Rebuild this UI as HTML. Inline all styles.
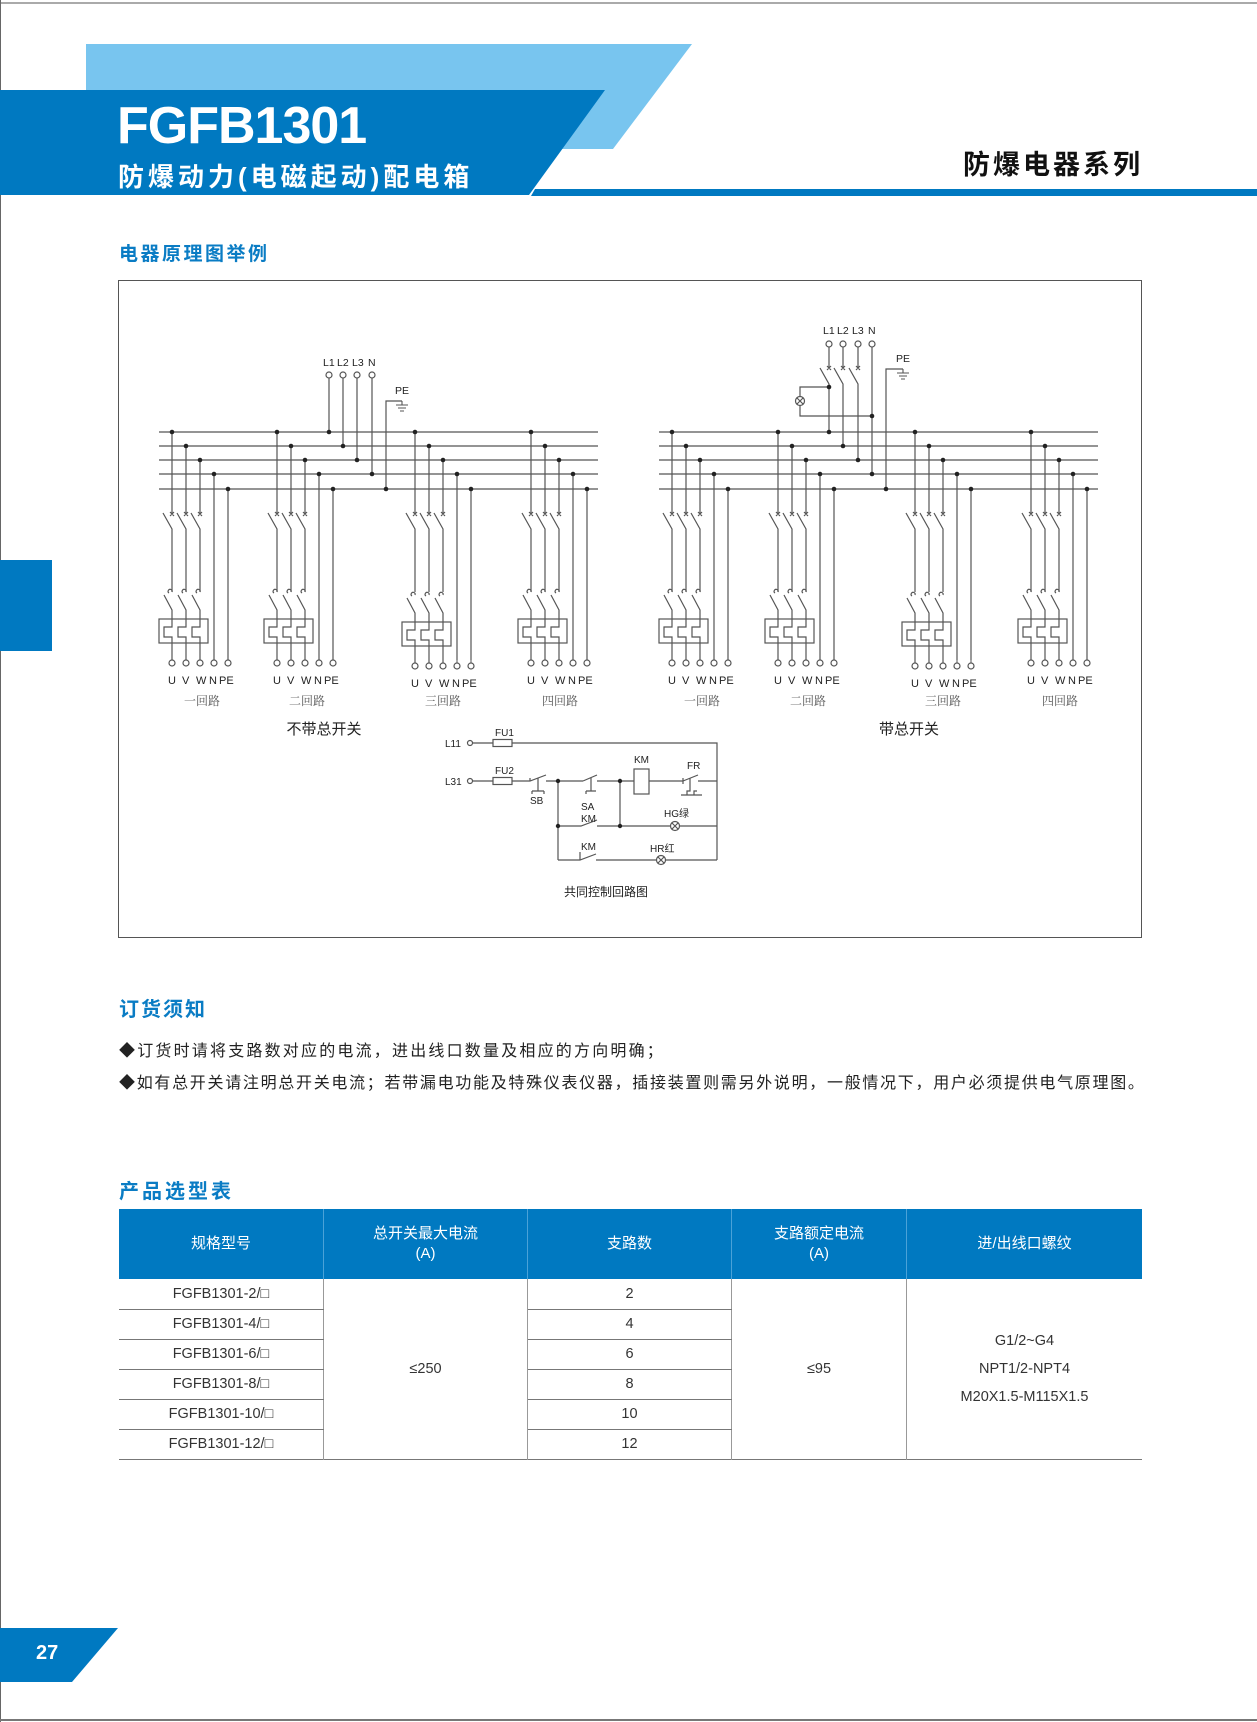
<!DOCTYPE html>
<html><head><meta charset="utf-8"><style>
html,body{margin:0;padding:0;background:#fff}
body{width:1257px;height:1722px;position:relative;overflow:hidden;font-family:"Liberation Sans","Noto Sans CJK SC",sans-serif}
.a{position:absolute;white-space:nowrap}
table{border-collapse:collapse}
</style></head><body>
<div class="a" style="left:0;width:1257px;height:2px;background:#aaa;top:2px"></div>
<div class="a" style="left:0;top:0;width:1px;height:1722px;background:#666"></div>
<div class="a" style="left:0;top:1719px;width:1257px;height:2px;background:#777"></div>
<svg class="a" style="left:0;top:0" width="1257" height="1722">
<polygon points="86,44 692,44 613,149 86,149" fill="#78c5ef"/>
<polygon points="0,90 605,90 529,195 0,195" fill="#0079c1"/>
<polygon points="535,189 1257,189 1257,196 531,196" fill="#0079c1"/>
<rect x="0" y="560" width="52" height="91" fill="#0079c1"/>
<polygon points="0,1628 118,1628 72,1682 0,1682" fill="#0079c1"/>
</svg>
<div class="a" style="left:117px;top:96px;font-size:52px;font-weight:bold;color:#fff;letter-spacing:-1px">FGFB1301</div>
<div class="a" style="left:118px;top:157px;font-size:26px;font-weight:bold;color:#fff;letter-spacing:4px">防爆动力(电磁起动)配电箱</div>
<div class="a" style="left:963px;top:143px;font-size:27px;font-weight:bold;color:#111;letter-spacing:3px">防爆电器系列</div>
<div class="a" style="left:119px;top:239px;font-size:19px;font-weight:bold;color:#0a7cc4;letter-spacing:2.5px">电器原理图举例</div>
<div class="a" style="left:36px;top:1642px;font-size:20px;font-weight:bold;color:#fff">27</div>

<svg class="a" style="left:0;top:0" width="1257" height="1000" font-family="Liberation Sans, sans-serif">
<rect x="118.5" y="280.5" width="1023" height="657" fill="none" stroke="#555" stroke-width="1"/>
<defs>
<g id="top" stroke="#555" stroke-width="1.2" fill="none">
<path d="M0 432V514M14 446V514M28 460V514M42 474V660M56 489V660"/>
<path d="M-2 512l4 4M2 512l-4 4M12 512l4 4M16 512l-4 4M26 512l4 4M30 512l-4 4"/>
<path d="M-9 513L0 529V592M5 513L14 529V592M19 513L28 529V592"/>
</g>
<g id="bot" stroke="#555" stroke-width="1.2" fill="none">
<path d="M0 592a2 2 0 1 0 -3 1M14 592a2 2 0 1 0 -3 1M28 592a2 2 0 1 0 -3 1"/>
<path d="M-8 595L0 610V627H-8V637H0V660M6 595L14 610V627H6V637H14V660M20 595L28 610V627H20V637H28V660"/>
<rect x="-13" y="619" width="49" height="24"/>
<circle cx="0" cy="663" r="3" fill="#fff"/><circle cx="14" cy="663" r="3" fill="#fff"/><circle cx="28" cy="663" r="3" fill="#fff"/><circle cx="42" cy="663" r="3" fill="#fff"/><circle cx="56" cy="663" r="3" fill="#fff"/>
</g>
<g id="dots" fill="#222"><circle cx="0" cy="432" r="2.3"/><circle cx="14" cy="446" r="2.3"/><circle cx="28" cy="460" r="2.3"/><circle cx="42" cy="474" r="2.3"/><circle cx="56" cy="489" r="2.3"/></g>
<g id="lab" font-size="11" fill="#222"><text x="-4" y="684">U</text><text x="10" y="684">V</text><text x="24" y="684">W</text><text x="37" y="684">N</text><text x="47" y="684">PE</text></g>
<g id="gnd" stroke="#555" stroke-width="1.1"><path d="M0 0V4M-6 4H6M-4 7H4M-2 10H2"/></g>
</defs>
<g stroke="#555" stroke-width="1.3"><path d="M159 432H598M159 446H598M159 460H598M159 474H598M159 489H598"/>
<path d="M659 432H1098M659 446H1098M659 460H1098M659 474H1098M659 489H1098"/></g>
<g><use href="#top" x="172"/><use href="#bot" x="172"/><use href="#dots" x="172"/><use href="#lab" x="172"/></g>
<g><use href="#top" x="277"/><use href="#bot" x="277"/><use href="#dots" x="277"/><use href="#lab" x="277"/></g>
<g><use href="#top" x="415"/><use href="#bot" x="415" y="3"/><use href="#dots" x="415"/><use href="#lab" x="415" y="3"/>
<path d="M457 660V663M471 660V663" stroke="#555"/></g>
<g><use href="#top" x="531"/><use href="#bot" x="531"/><use href="#dots" x="531"/><use href="#lab" x="531"/></g>
<g><use href="#top" x="672"/><use href="#bot" x="672"/><use href="#dots" x="672"/><use href="#lab" x="672"/></g>
<g><use href="#top" x="778"/><use href="#bot" x="778"/><use href="#dots" x="778"/><use href="#lab" x="778"/></g>
<g><use href="#top" x="915"/><use href="#bot" x="915" y="3"/><use href="#dots" x="915"/><use href="#lab" x="915" y="3"/>
<path d="M957 660V663M971 660V663" stroke="#555"/></g>
<g><use href="#top" x="1031"/><use href="#bot" x="1031"/><use href="#dots" x="1031"/><use href="#lab" x="1031"/></g>
<g font-family="Liberation Serif, Noto Serif CJK SC, serif" font-size="12" fill="#555" text-anchor="middle">
<text x="202" y="705">一回路</text><text x="307" y="705">二回路</text><text x="443" y="705">三回路</text><text x="560" y="705">四回路</text>
<text x="702" y="705">一回路</text><text x="808" y="705">二回路</text><text x="943" y="705">三回路</text><text x="1060" y="705">四回路</text>
</g>
<g font-family="Liberation Sans, Noto Sans CJK SC, sans-serif" font-size="15" fill="#222" text-anchor="middle">
<text x="324" y="734">不带总开关</text><text x="909" y="734">带总开关</text></g>
<g stroke="#555" stroke-width="1.2" fill="none">
<path d="M329 378V432M343 378V446M357 378V460M372 378V474M386 489V401H402"/>
<circle cx="329" cy="375" r="3" fill="#fff"/><circle cx="343" cy="375" r="3" fill="#fff"/><circle cx="357" cy="375" r="3" fill="#fff"/><circle cx="372" cy="375" r="3" fill="#fff"/>
</g>
<use href="#gnd" x="402" y="401"/>
<g fill="#222"><circle cx="329" cy="432" r="2.3"/><circle cx="343" cy="446" r="2.3"/><circle cx="357" cy="460" r="2.3"/><circle cx="372" cy="474" r="2.3"/><circle cx="386" cy="489" r="2.3"/></g>
<g font-size="10.5" fill="#222"><text x="323" y="366">L1</text><text x="337" y="366">L2</text><text x="352" y="366">L3</text><text x="368" y="366">N</text><text x="395" y="394">PE</text></g>
<g stroke="#555" stroke-width="1.2" fill="none">
<path d="M829 347V368M843 347V368M858 347V368M872 347V474M886 489V369H903"/>
<path d="M827 366l4 4M831 366l-4 4M841 366l4 4M845 366l-4 4M856 366l4 4M860 366l-4 4"/>
<path d="M820 368L829 384V432M834 368L843 384V446M849 368L858 384V460"/>
<path d="M829 387H800V397M800 405V416H872"/>
<circle cx="800" cy="401" r="4.5"/><path d="M797 398l6 6M803 398l-6 6"/>
<circle cx="829" cy="344" r="3" fill="#fff"/><circle cx="843" cy="344" r="3" fill="#fff"/><circle cx="858" cy="344" r="3" fill="#fff"/><circle cx="872" cy="344" r="3" fill="#fff"/>
</g>
<use href="#gnd" x="903" y="369"/>
<g fill="#222"><circle cx="829" cy="432" r="2.3"/><circle cx="843" cy="446" r="2.3"/><circle cx="858" cy="460" r="2.3"/><circle cx="872" cy="474" r="2.3"/><circle cx="886" cy="489" r="2.3"/><circle cx="829" cy="387" r="2.3"/><circle cx="872" cy="416" r="2.3"/></g>
<g font-size="10.5" fill="#222"><text x="823" y="334">L1</text><text x="837" y="334">L2</text><text x="852" y="334">L3</text><text x="868" y="334">N</text><text x="896" y="362">PE</text></g>
<g stroke="#555" stroke-width="1.2" fill="none">
<circle cx="470" cy="743" r="2.5"/><circle cx="470" cy="781" r="2.5"/>
<path d="M473 743H493M512 743H717V860M473 781H493M512 781H530L546 775M546 781H583M583 781L597 775M597 781H634M649 781H683M698 781H717"/>
<rect x="493" y="739.5" width="19" height="7"/><rect x="493" y="777.5" width="19" height="7"/>
<path d="M530 778V781M538 778V791M532 791H544M532 791V794M544 791V794"/>
<path d="M591 778V791M586 791H596M586 791V794"/>
<rect x="634" y="769" width="15" height="25"/>
<path d="M683 781L698 775M683 778V784M690 778V791H687V795H694V791H697M681 795H687M694 795H702"/>
<path d="M558 781V860M620 781V826M558 826H581L597 820M597 826H671M679 826H717M558 860H580L596 854M580 852V860M596 860H657M665 860H717"/>
<circle cx="675" cy="826" r="4.5"/><path d="M672 823l6 6M678 823l-6 6"/>
<circle cx="661" cy="860" r="4.5"/><path d="M658 857l6 6M664 857l-6 6"/>
</g>
<g fill="#222"><circle cx="558" cy="781" r="2.2"/><circle cx="620" cy="781" r="2.2"/><circle cx="558" cy="826" r="2.2"/><circle cx="620" cy="826" r="2.2"/></g>
<g font-size="10" fill="#222" font-family="Liberation Sans, Noto Sans CJK SC, sans-serif">
<text x="445" y="747">L11</text><text x="445" y="785">L31</text>
<text x="495" y="736">FU1</text><text x="495" y="774">FU2</text>
<text x="530" y="804">SB</text><text x="581" y="810">SA</text><text x="581" y="822">KM</text>
<text x="634" y="763">KM</text><text x="687" y="769">FR</text>
<text x="664" y="817">HG绿</text><text x="581" y="850">KM</text><text x="650" y="852">HR红</text>
<text x="564" y="896" font-size="12">共同控制回路图</text>
</g>
</svg>

<div class="a" style="left:119px;top:993px;font-size:20px;font-weight:bold;color:#0a7cc4;letter-spacing:2px">订货须知</div>
<div class="a" style="left:119px;top:1037px;font-size:16px;color:#222;letter-spacing:2.2px">◆订货时请将支路数对应的电流，进出线口数量及相应的方向明确；</div>
<div class="a" style="left:119px;top:1069px;font-size:16px;color:#222;letter-spacing:1.7px">◆如有总开关请注明总开关电流；若带漏电功能及特殊仪表仪器，插接装置则需另外说明，一般情况下，用户必须提供电气原理图。</div>
<div class="a" style="left:119px;top:1175px;font-size:20px;font-weight:bold;color:#0a7cc4;letter-spacing:3px">产品选型表</div>

<table class="a" style="left:119px;top:1209px;width:1023px;font-size:14.5px;color:#333;text-align:center">
<tr style="background:#0079c1;color:#fff;height:70px;font-size:15px;line-height:20px">
<td style="width:202px;border-right:1px solid #4aa2d8">规格型号</td>
<td style="width:201px;border-right:1px solid #4aa2d8">总开关最大电流<br>(A)</td>
<td style="width:201px;border-right:1px solid #4aa2d8">支路数</td>
<td style="width:172px;border-right:1px solid #4aa2d8">支路额定电流<br>(A)</td>
<td>进/出线口螺纹</td></tr>
<tr style="height:30px"><td style="border-bottom:1px solid #777;border-right:1px solid #999">FGFB1301-2/□</td>
<td rowspan="6" style="border-right:1px solid #999">≤250</td>
<td style="border-bottom:1px solid #777;border-right:1px solid #999">2</td>
<td rowspan="6" style="border-right:1px solid #999">≤95</td>
<td rowspan="6" style="line-height:28px">G1/2~G4<br>NPT1/2-NPT4<br>M20X1.5-M115X1.5</td></tr>
<tr style="height:30px"><td style="border-bottom:1px solid #777;border-right:1px solid #999">FGFB1301-4/□</td><td style="border-bottom:1px solid #777;border-right:1px solid #999">4</td></tr>
<tr style="height:30px"><td style="border-bottom:1px solid #777;border-right:1px solid #999">FGFB1301-6/□</td><td style="border-bottom:1px solid #777;border-right:1px solid #999">6</td></tr>
<tr style="height:30px"><td style="border-bottom:1px solid #777;border-right:1px solid #999">FGFB1301-8/□</td><td style="border-bottom:1px solid #777;border-right:1px solid #999">8</td></tr>
<tr style="height:30px"><td style="border-bottom:1px solid #777;border-right:1px solid #999">FGFB1301-10/□</td><td style="border-bottom:1px solid #777;border-right:1px solid #999">10</td></tr>
<tr style="height:30px;border-bottom:1px solid #777"><td style="border-right:1px solid #999">FGFB1301-12/□</td><td style="border-right:1px solid #999">12</td></tr>
</table>
</body></html>
